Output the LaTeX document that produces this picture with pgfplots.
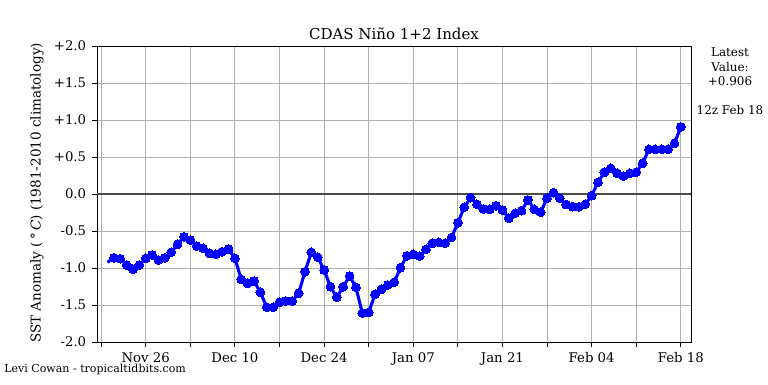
\documentclass[border=0pt]{standalone}
\usepackage{pgfplots}
\pgfplotsset{compat=1.18}
\usepackage{fontspec}
\setmainfont{DejaVu Serif}
\pgfplotstableread{
day val
-6 -0.923
-5 -0.861
-4 -0.874
-3 -0.959
-2 -1.018
-1 -0.959
0 -0.869
1 -0.824
2 -0.892
3 -0.861
4 -0.788
5 -0.680
6 -0.577
7 -0.622
8 -0.703
9 -0.734
10 -0.801
11 -0.815
12 -0.780
13 -0.743
14 -0.869
15 -1.153
16 -1.207
17 -1.176
18 -1.328
19 -1.531
20 -1.531
21 -1.464
22 -1.446
23 -1.446
24 -1.342
25 -1.050
26 -0.788
27 -0.855
28 -1.027
29 -1.253
30 -1.396
31 -1.253
32 -1.108
33 -1.261
34 -1.610
35 -1.600
36 -1.355
37 -1.288
38 -1.230
39 -1.193
40 -0.996
41 -0.834
42 -0.815
43 -0.838
44 -0.747
45 -0.666
46 -0.653
47 -0.666
48 -0.588
49 -0.388
50 -0.180
51 -0.050
52 -0.139
53 -0.203
54 -0.207
55 -0.158
56 -0.216
57 -0.328
58 -0.261
59 -0.226
60 -0.081
61 -0.207
62 -0.247
63 -0.058
64 0.018
65 -0.058
66 -0.142
67 -0.172
68 -0.172
69 -0.139
70 -0.023
71 0.158
72 0.293
73 0.347
74 0.280
75 0.243
76 0.280
77 0.293
78 0.415
79 0.604
80 0.604
81 0.604
82 0.604
83 0.685
84 0.906
}\ninotable
\begin{document}
\begin{tikzpicture}[x=1bp,y=1bp]
\path (0,0) rectangle (576,288);
\begin{axis}[
  at={(72.75bp,31.5bp)}, anchor=south west,
  scale only axis, width=445.5bp, height=222bp,
  xmin=-7.65, xmax=85.6, ymin=-2, ymax=2,
  xtick={0,14,28,42,56,70,84},
  xticklabels={Nov 26,Dec 10,Dec 24,Jan 07,Jan 21,Feb 04,Feb 18},
  minor xtick={-7,7,21,35,49,63,77},
  ytick={-2,-1.5,-1,-0.5,0,0.5,1,1.5,2},
  yticklabels={-2.0,-1.5,-1.0,-0.5,0.0,+0.5,+1.0,+1.5,+2.0},
  grid=both,
  major grid style={draw=black!31, line width=0.75bp},
  minor grid style={draw=black!31, line width=0.75bp},
  tick align=outside,
  xtick pos=bottom, ytick pos=left,
  major tick length=3.6bp, minor tick length=3.6bp,
  every tick/.style={black, line width=0.7bp},
  axis line style={black, line width=0.7bp},
  ticklabel style={font=\fontsize{10}{12}\selectfont},
  xticklabel style={yshift=-1bp},
  yticklabel style={xshift=-1bp},
]
\addplot[draw=black!70, line width=1.1bp, forget plot] coordinates {(-7.65,0) (85.6,0)};
\addplot[color={rgb,255:red,0;green,0;blue,255}, line width=2.3bp, line join=round,
  mark=*, mark size=3.3bp, mark phase=2, mark repeat=1,
  mark options={fill={rgb,255:red,0;green,0;blue,255}, draw={rgb,255:red,0;green,0;blue,255}, line width=0pt}]
  table[x=day,y=val] {\ninotable};
\end{axis}
\node[anchor=base, font=\fontsize{11.3}{13}\selectfont] at (295.5,258.75) {CDAS Niño 1+2 Index};
\node[rotate=90, anchor=center, font=\fontsize{10.2}{12}\selectfont] at (27.75,143.3) {SST Anomaly (\,°\,\textit{C}) (1981-2010 climatology)};
\node[anchor=base, font=\fontsize{9}{11}\selectfont] at (547.5,245.6) {Latest};
\node[anchor=base, font=\fontsize{9}{11}\selectfont] at (547.5,234.75) {Value:};
\node[anchor=base, font=\fontsize{9}{11}\selectfont] at (547.5,224.25) {+0.906};
\node[anchor=base, font=\fontsize{9}{11}\selectfont] at (547.5,202.5) {12z Feb 18};
\node[anchor=base west, inner sep=0pt, font=\fontsize{8.3}{10}\selectfont] at (3,8.5) {Levi Cowan - tropicaltidbits.com};
\end{tikzpicture}
\end{document}
